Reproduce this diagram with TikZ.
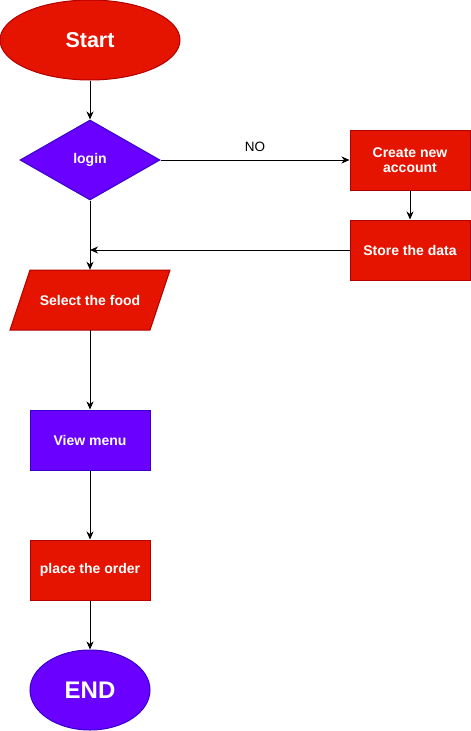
\documentclass[tikz,border=0pt]{standalone}
\usepackage{fontspec}
\setmainfont{Liberation Sans}
\usetikzlibrary{shapes.geometric,arrows.meta}
\definecolor{rfill}{HTML}{E51400}
\definecolor{rdraw}{HTML}{B20000}
\definecolor{pfill}{HTML}{6A00FF}
\definecolor{pdraw}{HTML}{3700CC}
\begin{document}
\begin{tikzpicture}[x=1pt,y=-1pt,
  redbox/.style={rectangle,fill=rfill,draw=rdraw,line width=1pt,minimum width=120pt,minimum height=60pt,inner sep=0pt,text=white,font=\fontsize{14}{15}\selectfont\bfseries,align=center},
  purplebox/.style={redbox,fill=pfill,draw=pdraw},
  conn/.style={line width=1pt,-{Stealth[length=8pt,width=7pt,inset=2.5pt]}}]
\useasboundingbox (0,0) rectangle (471,731);
% Start
\node[ellipse,fill=rfill,draw=rdraw,line width=1pt,minimum width=180pt,minimum height=80pt,inner sep=0pt,text=white,font=\fontsize{21.5}{24}\selectfont\bfseries] (start) at (90,40) {Start};
% login diamond
\node[diamond,fill=pfill,draw=pdraw,line width=1pt,minimum width=140pt,minimum height=80pt,inner sep=0pt,text=white,font=\fontsize{14}{15}\selectfont\bfseries] (login) at (90,160) {login};
% create account
\node[redbox] (create) at (410,160) {Create new\\account};
\node[redbox] (store) at (410,250) {Store the data};
% select food parallelogram
\fill[rfill,draw=rdraw,line width=1pt] (30,270) -- (170,270) -- (150,330) -- (10,330) -- cycle;
\node[rectangle,minimum width=140pt,minimum height=60pt,inner sep=0pt,text=white,font=\fontsize{14}{15}\selectfont\bfseries] (select) at (90,300) {Select the food};
% view menu
\node[purplebox] (view) at (90,440) {View menu};
\node[redbox] (place) at (90,570) {place the order};
% END
\node[ellipse,fill=pfill,draw=pdraw,line width=1pt,minimum width=120pt,minimum height=80pt,inner sep=0pt,text=white,font=\fontsize{24}{26}\selectfont\bfseries] (end) at (90,690) {END};
\coordinate (join) at (90,250);
% connectors
\draw[conn] (start) -- (login);
\draw[conn] (login.east) -- node[above=5pt,font=\fontsize{13.5}{15}\selectfont] (no) {NO} (create.west);
\draw[conn] (create) -- (store);
\draw[line width=1pt] (login.south) -- (join);
\draw[conn] (join) -- (select.north);
\draw[conn] (store.west) -- (join);
\draw[conn] (select.south) -- (view);
\draw[conn] (view) -- (place);
\draw[conn] (place) -- (end);
\end{tikzpicture}
\end{document}
